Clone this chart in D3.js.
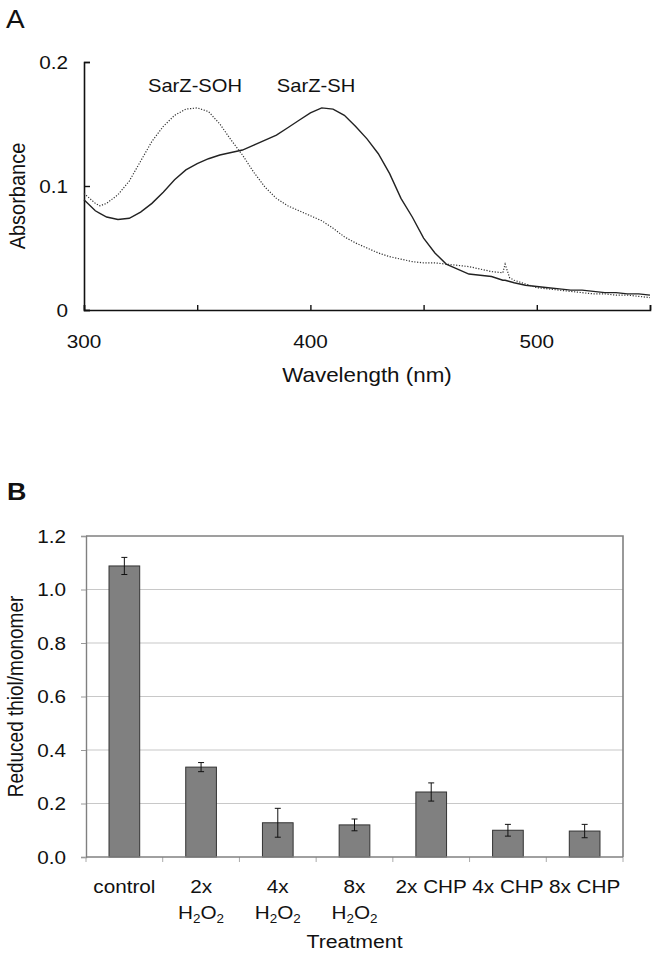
<!DOCTYPE html>
<html>
<head>
<meta charset="utf-8">
<script src="https://cdn.jsdelivr.net/npm/d3@7"></script>
<style>
  html, body { margin: 0; padding: 0; background: #fff; }
  svg { display: block; font-family: "Liberation Sans", Arial, sans-serif; }
</style>
</head>
<body>
<svg id="chart" width="661" height="953"></svg>
<script>
// ---------- Panel A data ----------
const wavelengths = [300,305,307,310,315,320,325,330,335,340,345,350,355,360,365,370,375,380,385,390,395,400,405,410,415,420,425,430,435,440,445,450,455,460,465,470,475,480,485,486,488,490,495,500,505,510,515,520,525,530,535,540,545,550];
const absSH  = [0.089,0.080,0.078,0.075,0.073,0.074,0.079,0.086,0.095,0.105,0.113,0.118,0.122,0.125,0.127,0.129,0.133,0.137,0.141,0.147,0.153,0.159,0.163,0.162,0.157,0.148,0.138,0.126,0.110,0.090,0.075,0.058,0.046,0.037,0.033,0.029,0.028,0.027,0.024,0.024,0.023,0.022,0.020,0.019,0.018,0.017,0.016,0.016,0.015,0.014,0.014,0.013,0.013,0.012];
const absSOH = [0.094,0.086,0.084,0.086,0.093,0.104,0.120,0.136,0.148,0.157,0.162,0.163,0.160,0.150,0.137,0.125,0.111,0.099,0.090,0.084,0.080,0.076,0.072,0.066,0.059,0.054,0.050,0.046,0.043,0.041,0.039,0.038,0.038,0.037,0.036,0.035,0.033,0.031,0.030,0.037,0.026,0.024,0.021,0.018,0.017,0.016,0.015,0.014,0.013,0.013,0.012,0.012,0.011,0.010];
const seriesNames = ["SarZ-SH", "SarZ-SOH"];
const xTicksA = [300, 350, 400, 450, 500, 550];
const xTickLabelsA = [300, 400, 500];
const yTicksA = [0, 0.1, 0.2];

// ---------- Panel B data ----------
const categories = ["control", "2x H2O2", "4x H2O2", "8x H2O2", "2x CHP", "4x CHP", "8x CHP"];
const thiolValues = [1.088, 0.336, 0.128, 0.120, 0.243, 0.100, 0.097];
const thiolErrors = [0.032, 0.017, 0.054, 0.022, 0.034, 0.022, 0.025];
const yTicksB = [0.0, 0.2, 0.4, 0.6, 0.8, 1.0, 1.2];

const svg = d3.select("#chart");
const SX = 1.12; // horizontal stretch of the original figure's type

function label(g, x, y, str, size, anchor, weight) {
  const t = g.append("text")
    .attr("transform", `translate(${x},${y}) scale(${SX},1)`)
    .attr("font-size", size)
    .attr("text-anchor", anchor || "start")
    .attr("fill", "#111");
  if (weight) t.attr("font-weight", weight);
  t.text(str);
  return t;
}

// ================= Panel A =================
const A = { left: 84, right: 650, top: 62, bottom: 310 };
const xA = d3.scaleLinear().domain([300, 550]).range([A.left, A.right]);
const yA = d3.scaleLinear().domain([0, 0.2]).range([A.bottom, A.top]);
const gA = svg.append("g");

label(gA, 6, 28, "A", 25, "start");

// axes
const xAxisA = d3.axisBottom(xA).tickValues(xTicksA).tickSize(-5).tickFormat("");
gA.append("g").attr("transform", `translate(0,${A.bottom})`).call(xAxisA)
  .call(g => { g.select(".domain").attr("stroke", "#111").attr("stroke-width", 1.6); g.selectAll(".tick line").attr("stroke", "#111").attr("stroke-width", 1.4); });
const yAxisA = d3.axisLeft(yA).tickValues(yTicksA).tickSize(-6).tickFormat("");
gA.append("g").attr("transform", `translate(${A.left},0)`).call(yAxisA)
  .call(g => { g.select(".domain").attr("stroke", "#111").attr("stroke-width", 1.6); g.selectAll(".tick line").attr("stroke", "#111").attr("stroke-width", 1.4); });

xTickLabelsA.forEach(v => label(gA, xA(v), 348, String(v), 18.5, "middle"));
yTicksA.forEach(v => label(gA, 68, yA(v) + 6.5, v === 0 ? "0" : d3.format(".1f")(v), 18.5, "end"));

label(gA, (A.left + A.right) / 2, 382, "Wavelength (nm)", 20, "middle");
gA.append("text")
  .attr("transform", `translate(25,${(A.top + A.bottom) / 2 + 10}) scale(${SX},1) rotate(-90)`)
  .attr("font-size", 20).attr("text-anchor", "middle").attr("fill", "#111")
  .text("Absorbance");

const lineSH = d3.line().x((d, i) => xA(wavelengths[i])).y(d => yA(d));
gA.append("path").datum(absSH).attr("d", lineSH)
  .attr("fill", "none").attr("stroke", "#222").attr("stroke-width", 1.4);
gA.append("path").datum(absSOH).attr("d", lineSH)
  .attr("fill", "none").attr("stroke", "#333").attr("stroke-width", 1.2)
  .attr("stroke-dasharray", "1.2,1.6");

label(gA, 195, 92, seriesNames[1], 18, "middle");
label(gA, 316, 92, seriesNames[0], 18, "middle");

// ================= Panel B =================
const B = { left: 86, right: 623, top: 536, bottom: 857 };
const xB = d3.scaleBand().domain(categories).range([B.left, B.right]).paddingInner(0.6).paddingOuter(0.3);
const yB = d3.scaleLinear().domain([0, 1.2]).range([B.bottom, B.top]);
const gB = svg.append("g");

label(gB, 7, 500, "B", 24, "start", "bold");

// gridlines
gB.append("g").selectAll("line").data(yTicksB.filter(v => v > 0 && v < 1.2)).join("line")
  .attr("x1", B.left).attr("x2", B.right).attr("y1", d => yB(d)).attr("y2", d => yB(d))
  .attr("stroke", "#c8c8c8").attr("stroke-width", 1.2);
// frame top & right
gB.append("path")
  .attr("d", `M${B.left},${yB(1.2)}H${B.right}V${B.bottom}`)
  .attr("fill", "none").attr("stroke", "#808080").attr("stroke-width", 1.6);

// y axis
const yAxisB = d3.axisLeft(yB).tickValues(yTicksB).tickSize(5).tickFormat("");
gB.append("g").attr("transform", `translate(${B.left},0)`).call(yAxisB)
  .call(g => { g.select(".domain").attr("stroke", "#808080").attr("stroke-width", 1.4); g.selectAll(".tick line").attr("stroke", "#999"); });
yTicksB.forEach(v => label(gB, 66, yB(v) + 6.5, d3.format(".1f")(v), 18.5, "end"));

// x boundary ticks
const bounds = categories.map(c => xB(c) - xB.step() * xB.paddingInner() / 2);
bounds.push(B.right);
gB.append("g").selectAll("line").data(bounds).join("line")
  .attr("x1", d => d).attr("x2", d => d).attr("y1", B.bottom).attr("y2", B.bottom + 5)
  .attr("stroke", "#aaa");

// bars
gB.append("g").selectAll("rect").data(thiolValues).join("rect")
  .attr("x", (d, i) => xB(categories[i]))
  .attr("y", d => yB(d))
  .attr("width", xB.bandwidth())
  .attr("height", d => yB(0) - yB(d))
  .attr("fill", "#808080").attr("stroke", "#333").attr("stroke-width", 1);

// x axis line
gB.append("line").attr("x1", B.left).attr("x2", B.right).attr("y1", B.bottom).attr("y2", B.bottom)
  .attr("stroke", "#808080").attr("stroke-width", 1.6);

// error bars
const eb = gB.append("g").attr("stroke", "#111").attr("stroke-width", 1);
thiolValues.forEach((v, i) => {
  const cx = xB(categories[i]) + xB.bandwidth() / 2;
  const hi = yB(v + thiolErrors[i]), lo = yB(v - thiolErrors[i]);
  eb.append("line").attr("x1", cx).attr("x2", cx).attr("y1", hi).attr("y2", lo);
  eb.append("line").attr("x1", cx - 3).attr("x2", cx + 3).attr("y1", hi).attr("y2", hi);
  eb.append("line").attr("x1", cx - 3).attr("x2", cx + 3).attr("y1", lo).attr("y2", lo);
});

// category labels
categories.forEach(c => {
  const cx = xB(c) + xB.bandwidth() / 2;
  const m = c.match(/^(\S+)\s+H2O2$/);
  if (m) {
    label(gB, cx, 893, m[1], 18.5, "middle");
    const t = gB.append("text")
      .attr("transform", `translate(${cx},919) scale(${SX},1)`)
      .attr("font-size", 18.5).attr("text-anchor", "middle").attr("fill", "#111");
    t.append("tspan").text("H");
    t.append("tspan").attr("font-size", 12).attr("dy", 4).text("2");
    t.append("tspan").attr("dy", -4).text("O");
    t.append("tspan").attr("font-size", 12).attr("dy", 4).text("2");
  } else {
    label(gB, cx, 893, c, 18.5, "middle");
  }
});

label(gB, (B.left + B.right) / 2, 948, "Treatment", 19, "middle");
gB.append("text")
  .attr("transform", `translate(23,${(B.top + B.bottom) / 2}) scale(${SX},1) rotate(-90)`)
  .attr("font-size", 19).attr("text-anchor", "middle").attr("fill", "#111")
  .text("Reduced thiol/monomer");
</script>
</body>
</html>
